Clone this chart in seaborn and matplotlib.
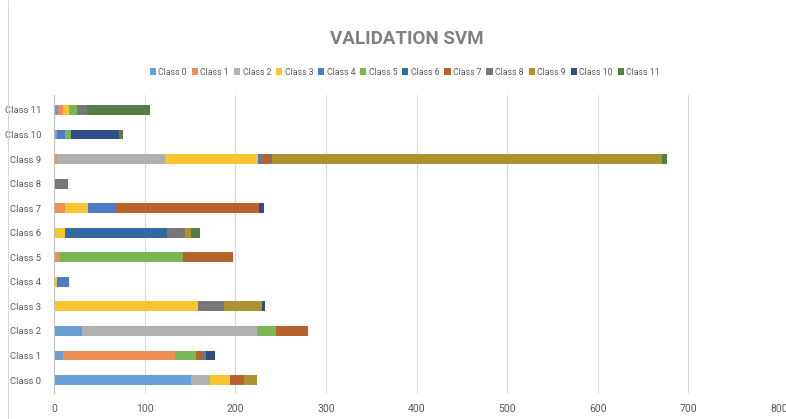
import numpy as np
import pandas as pd
import matplotlib
matplotlib.use("Agg")
import matplotlib.pyplot as plt
from matplotlib.patches import Patch
import seaborn as sns

# Actual class of each row (bottom to top)
categories = ["Class 0", "Class 1", "Class 2", "Class 3", "Class 4", "Class 5",
              "Class 6", "Class 7", "Class 8", "Class 9", "Class 10", "Class 11"]

# Predicted-class counts, one list per predicted class, indexed by actual class
pred_0 = [151, 10, 31, 0, 0, 0, 0, 0, 0, 0, 3, 4]
pred_1 = [0, 123, 0, 0, 0, 7, 0, 12, 0, 3, 0, 6]
pred_2 = [21, 0, 193, 0, 0, 0, 0, 0, 0, 119, 0, 0]
pred_3 = [22, 0, 0, 159, 3, 0, 12, 25, 0, 103, 0, 7]
pred_4 = [0, 0, 0, 0, 13, 0, 0, 31, 2, 5, 9, 0]
pred_5 = [0, 24, 21, 0, 0, 135, 0, 0, 0, 0, 7, 8]
pred_6 = [0, 0, 0, 0, 0, 0, 113, 0, 0, 0, 0, 0]
pred_7 = [16, 6, 35, 0, 0, 56, 0, 158, 0, 8, 0, 0]
pred_8 = [0, 5, 0, 29, 0, 0, 19, 0, 13, 3, 0, 11]
pred_9 = [14, 0, 0, 41, 0, 0, 7, 0, 0, 430, 0, 0]
pred_10 = [0, 10, 0, 4, 0, 0, 0, 6, 0, 0, 53, 0]
pred_11 = [0, 0, 0, 0, 0, 0, 10, 0, 0, 5, 4, 70]

series_names = ["Class 0", "Class 1", "Class 2", "Class 3", "Class 4", "Class 5",
                "Class 6", "Class 7", "Class 8", "Class 9", "Class 10", "Class 11"]
series = [pred_0, pred_1, pred_2, pred_3, pred_4, pred_5,
          pred_6, pred_7, pred_8, pred_9, pred_10, pred_11]

xticks = [0, 100, 200, 300, 400, 500, 600, 700, 800]

colors = ["#6A9FD6", "#EF8F55", "#B0B0B0", "#F9C52E", "#4F7BC6", "#7AB656",
          "#3469A3", "#B8622E", "#777777", "#AD922F", "#304F88", "#557F42"]

sns.set_style("white")
plt.rcParams["font.family"] = ["Roboto", "DejaVu Sans"]

fig = plt.figure(figsize=(7.86, 4.19), dpi=100)
ax = fig.add_axes([54 / 786, 1 - 393 / 419, 725 / 786, 298 / 419])

df = pd.DataFrame(np.array(series).T, columns=series_names)
df.insert(0, "actual", categories)
cum = df[series_names].cumsum(axis=1)

order = categories[::-1]
# Stack by overlaying cumulative totals, widest first
for j in range(len(series_names) - 1, -1, -1):
    sns.barplot(x=cum[series_names[j]], y=df["actual"], order=order,
                color=colors[j], orient="h", width=0.4, saturation=1,
                linewidth=0, ax=ax, errorbar=None)

ax.set_xlim(0, 800)
ax.set_ylim(11 + 13 / 24.55, -15 / 24.55)
ax.set_xticks(xticks)
ax.set_xticklabels([str(t) for t in xticks], color="#595959", fontsize=7.5)
ax.tick_params(axis="y", labelsize=6.8, labelcolor="#595959", length=0, pad=9)
ax.tick_params(axis="x", length=0, pad=8)
ax.set_xlabel("")
ax.set_ylabel("")
ax.xaxis.grid(True, color="#D9D9D9", linewidth=0.8)
ax.set_axisbelow(True)
for s in ["top", "right", "bottom"]:
    ax.spines[s].set_visible(False)
ax.spines["left"].set_color("#BFBFBF")
ax.spines["left"].set_linewidth(0.8)

fig.text(0.517, 0.908, "VALIDATION SVM", ha="center", va="center",
         fontsize=13.5, fontweight="bold", color="#808080")

handles = [Patch(facecolor=c, edgecolor="none") for c in colors]
fig.legend(handles, series_names, loc="center", bbox_to_anchor=(0.515, 0.828),
           ncol=12, frameon=False, fontsize=6.3, handlelength=0.7,
           handleheight=0.7, handletextpad=0.3, columnspacing=0.55,
           labelcolor="#595959")

fig.add_artist(plt.Line2D([8 / 786, 8 / 786], [0, 1], color="#D9D9D9", linewidth=0.8))

fig.savefig("out.png", dpi=100)
